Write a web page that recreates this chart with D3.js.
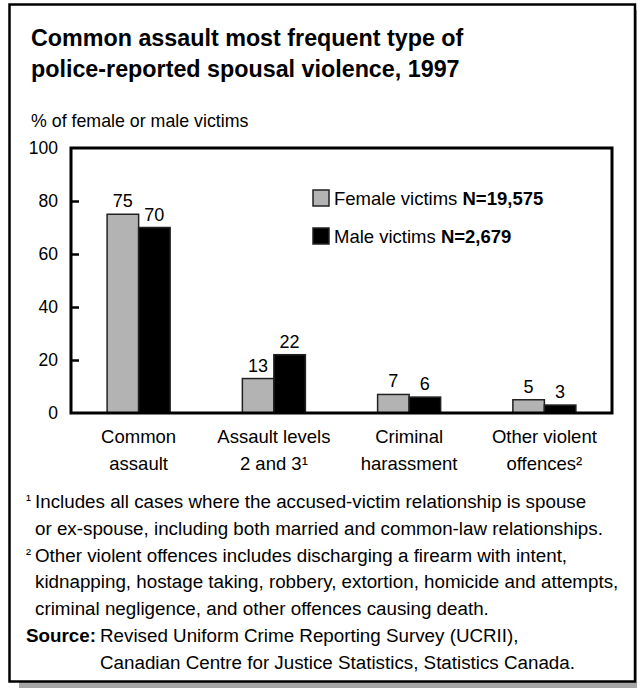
<!DOCTYPE html>
<html>
<head>
<meta charset="utf-8">
<script src="https://cdn.jsdelivr.net/npm/d3@7"></script>
<style>
  html, body { margin: 0; padding: 0; background: #fff; }
  svg { display: block; font-family: "Liberation Sans", Arial, Helvetica, sans-serif; }
</style>
</head>
<body>
<script>
// Offence categories, two lines each
const categories = ["Common assault", "Assault levels 2 and 3", "Criminal harassment", "Other violent offences"];
const categoryLines = [["Common", "assault"], ["Assault levels", "2 and 3¹"], ["Criminal", "harassment"], ["Other violent", "offences²"]];
const seriesNames = ["Female victims", "Male victims"];
const seriesCounts = ["N=19,575", "N=2,679"];
const femaleValues = [75, 13, 7, 5];
const maleValues = [70, 22, 6, 3];
const yTicks = [0, 20, 40, 60, 80, 100];

const titleLines = ["Common assault most frequent type of", "police-reported spousal violence, 1997"];
const yTitle = "% of female or male victims";
const notes = [
  ["¹", "Includes all cases where the accused-victim relationship is spouse"],
  ["", "or ex-spouse, including both married and common-law relationships."],
  ["²", "Other violent offences includes discharging a firearm with intent,"],
  ["", "kidnapping, hostage taking, robbery, extortion, homicide and attempts,"],
  ["", "criminal negligence, and other offences causing death."]
];
const sourceLines = ["Revised Uniform Crime Reporting Survey (UCRII),", "Canadian Centre for Justice Statistics, Statistics Canada."];

const W = 637, H = 688;
const colors = ["#b3b3b3", "#000000"];

const svg = d3.select("body").append("svg").attr("width", W).attr("height", H);

// Panel shadow and frame
svg.append("rect").attr("x", 19).attr("y", 10).attr("width", 626).attr("height", 678).attr("fill", "#a6a6a6");
svg.append("rect").attr("x", 9.5).attr("y", 4.5).attr("width", 625.5).attr("height", 677)
  .attr("fill", "#fff").attr("stroke", "#000").attr("stroke-width", 2.5);

// Title
svg.append("g").selectAll("text").data(titleLines).join("text")
  .attr("x", 31).attr("y", (d, i) => 46 + i * 31)
  .attr("font-size", 23.3).attr("font-weight", "bold").attr("fill", "#000")
  .text(d => d);

svg.append("text").attr("x", 31).attr("y", 127).attr("font-size", 17.8).text(yTitle);

// Plot area
const plot = { left: 71, right: 612, top: 148, bottom: 413 };
const x = d3.scaleBand().domain(categories).range([plot.left, plot.right]).paddingInner(0.534).paddingOuter(0.267);
const xs = d3.scaleBand().domain(seriesNames).range([0, x.bandwidth()]);
const y = d3.scaleLinear().domain([0, 100]).range([plot.bottom, plot.top]);

// Y axis: inward ticks, labels to the left
const yAxis = d3.axisRight(y).tickValues(yTicks.filter(v => v > 0 && v < 100)).tickSize(8).tickFormat("");
const ya = svg.append("g").attr("transform", `translate(${plot.left},0)`).call(yAxis);
ya.select(".domain").remove();
ya.selectAll("line").attr("stroke", "#000").attr("stroke-width", 2.5);

svg.append("g").selectAll("text").data(yTicks).join("text")
  .attr("x", 58).attr("y", d => y(d)).attr("dy", "0.36em")
  .attr("text-anchor", "end").attr("font-size", 17.5).text(d => d);

// Bars
const data = categories.map((c, i) => ({ c, vals: [femaleValues[i], maleValues[i]] }));
const groups = svg.append("g").selectAll("g").data(data).join("g")
  .attr("transform", d => `translate(${x(d.c)},0)`);

groups.selectAll("rect").data(d => d.vals.map((v, j) => ({ v, s: seriesNames[j], j }))).join("rect")
  .attr("x", d => xs(d.s)).attr("width", xs.bandwidth())
  .attr("y", d => y(d.v)).attr("height", d => y(0) - y(d.v))
  .attr("fill", d => colors[d.j]).attr("stroke", "#222").attr("stroke-width", 1.5);

groups.selectAll("text").data(d => d.vals.map((v, j) => ({ v, s: seriesNames[j] }))).join("text")
  .attr("x", d => xs(d.s) + xs.bandwidth() / 2).attr("y", d => y(d.v) - 7)
  .attr("text-anchor", "middle").attr("font-size", 18).text(d => d.v);

// Plot frame
svg.append("rect").attr("x", plot.left).attr("y", plot.top)
  .attr("width", plot.right - plot.left).attr("height", plot.bottom - plot.top)
  .attr("fill", "none").attr("stroke", "#000").attr("stroke-width", 3);

// Category labels
const xa = svg.append("g").selectAll("text").data(categories).join("text")
  .attr("text-anchor", "middle").attr("font-size", 18.5)
  .attr("x", d => x(d) + x.bandwidth() / 2);
xa.selectAll("tspan").data((d, i) => categoryLines[i]).join("tspan")
  .attr("x", function () { return this.parentNode.getAttribute("x"); })
  .attr("y", (d, i) => 443 + i * 27).text(d => d);

// Legend
const legend = svg.append("g").selectAll("g").data(seriesNames).join("g")
  .attr("transform", (d, i) => `translate(313,${190 + i * 38})`);
legend.append("rect").attr("width", 16).attr("height", 16)
  .attr("fill", (d, i) => colors[i]).attr("stroke", "#222").attr("stroke-width", 1.5);
const lt = legend.append("text").attr("x", 21).attr("y", 15).attr("font-size", 18.5);
lt.append("tspan").text(d => d + " ");
lt.append("tspan").attr("font-weight", "bold").text((d, i) => seriesCounts[i]);

// Footnotes
const fn = svg.append("g").selectAll("g").data(notes).join("g")
  .attr("transform", (d, i) => `translate(0,${508 + i * 26.8})`);
fn.append("text").attr("x", 26).attr("y", -3).attr("font-size", 15).text(d => d[0]);
fn.append("text").attr("x", 35).attr("y", 0).attr("font-size", 18.8).text(d => d[1]);

svg.append("text").attr("x", 26).attr("y", 642).attr("font-size", 18.8).attr("font-weight", "bold").text("Source:");
svg.append("g").selectAll("text").data(sourceLines).join("text")
  .attr("x", 100).attr("y", (d, i) => 642 + i * 26.8).attr("font-size", 18.8).text(d => d);
</script>
</body>
</html>
